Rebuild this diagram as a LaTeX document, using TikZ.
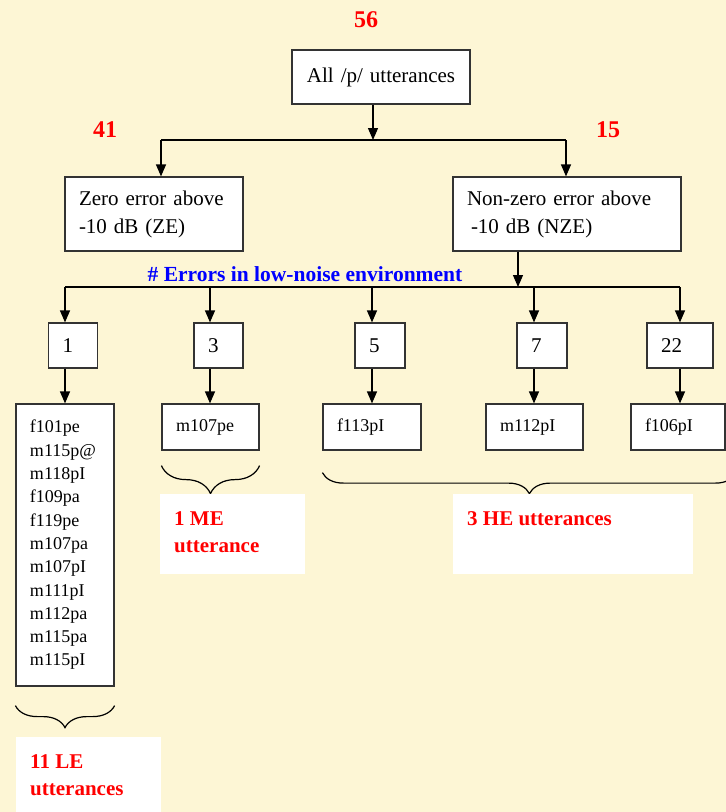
\documentclass[tikz,border=0pt]{standalone}
\usepackage{fontspec}
\setmainfont{Liberation Serif}
\usetikzlibrary{arrows.meta, decorations.pathreplacing}
\definecolor{paper}{HTML}{FDF6D5}

\begin{document}
\begin{tikzpicture}[x=1pt, y=-1pt,
    box/.style={draw=black!80, line width=1.2pt, fill=white, inner xsep=14pt, inner ysep=0pt, align=left},
    headbox/.style={box, font=\fontsize{21}{28}\selectfont},
    numbox/.style={box, minimum height=45, text width=#1, font=\fontsize{21}{25}\selectfont},
    namebox/.style={box, text width=#1, font=\fontsize{18}{23.3}\selectfont},
    total/.style={text=red, font=\fontsize{24}{28}\selectfont\bfseries},
    tallybox/.style={fill=white, anchor=north west, inner sep=0pt},
    tally/.style={text=red, font=\fontsize{21}{26.5}\selectfont\bfseries, align=left, anchor=north west, inner sep=0pt},
    arr/.style={-{Triangle[width=10pt,length=12pt]}, line width=1.2pt},
    ubrace/.style={decorate, decoration={brace, mirror, amplitude=#1}, line width=1.2pt}]
    % Background
    \fill[paper] (0,0) rectangle (726,812);
    \useasboundingbox (0,0) rectangle (726,812);
    \clip (0,0) rectangle (726,812);

    % Top level
    \node[total] (c56) at (366,20) {56};
    \node[headbox, align=center, text width=150, minimum height=54] (all) at (381,77) {All /p/ utterances};
    \node[total] (c41) at (105,130) {41};
    \node[total] (c15) at (608,130) {15};

    % Split above -10 dB
    \node[headbox, text width=150, minimum height=74] (ze) at (154,214) {Zero error above\\-10 dB (ZE)};
    \node[headbox, text width=200, minimum height=74] (nze) at (567,214) {Non-zero error above\\\hspace*{4pt}-10 dB (NZE)};

    \coordinate (j0) at (373,140);
    \coordinate (jl) at (161,140);
    \coordinate (jr) at (566,140);
    \draw[arr] (all.south -| j0) -- (j0);
    \draw[line width=1.2pt] (jl) -- (jr);
    \draw[arr] (jl) -- (ze.north -| jl);
    \draw[arr] (jr) -- (nze.north -| jr);

    % Errors in low-noise environment
    \node[text=blue, font=\fontsize{21.5}{25}\selectfont\bfseries] (env) at (305,274) {\# Errors in low-noise environment};
    \coordinate (k0) at (518,287);
    \coordinate (k1) at (65,287);
    \coordinate (k3) at (210,287);
    \coordinate (k5) at (372,287);
    \coordinate (k7) at (534,287);
    \coordinate (k22) at (680,287);
    \draw[arr] (nze.south -| k0) -- (k0);
    \draw[line width=1.2pt] (k1) -- (k22);

    \node[numbox=21] (n1) at (73,345.5) {1};
    \node[numbox=21] (n3) at (218.5,345.5) {3};
    \node[numbox=22] (n5) at (380,345.5) {5};
    \node[numbox=22] (n7) at (542,345.5) {7};
    \node[numbox=38] (n22) at (680,345.5) {22};

    % Utterance lists
    \node[namebox=70, minimum height=282] (l1) at (65,545) {f101pe\\m115p@\\m118pI\\f109pa\\f119pe\\m107pa\\m107pI\\m111pI\\m112pa\\m115pa\\m115pI};
    \node[namebox=69, minimum height=46] (l3) at (210.5,427) {m107pe};
    \node[namebox=70, minimum height=46] (l5) at (372,427) {f113pI};
    \node[namebox=69, minimum height=46] (l7) at (534.5,427) {m112pI};
    \node[namebox=66, minimum height=46] (l22) at (678,427) {f106pI};

    \foreach \i in {1,3,5,7,22} {
        \draw[arr] (k\i) -- (n\i.north -| k\i);
        \draw[arr] (n\i.south -| k\i) -- (l\i.north -| k\i);
    }

    % Braces and groups
    \draw[ubrace=22] ([yshift=-19]l1.south west) -- ([yshift=-19]l1.south east);
    \draw[ubrace=28] ([yshift=-15]l3.south west) -- ([yshift=-15]l3.south east);
    \draw[ubrace=21] ([yshift=-22]l5.south west) -- +(414,0);

    \node[tallybox, minimum width=145, minimum height=80] (le) at (16,737) {};
    \node[tallybox, minimum width=145, minimum height=80] (me) at (160,494) {};
    \node[tallybox, minimum width=240, minimum height=80] (he) at (453,494) {};
    \node[tally] at ([shift={(14,17.5)}]le.north west) {11 LE\\utterances};
    \node[tally] at ([shift={(14,17.5)}]me.north west) {1 ME\\utterance};
    \node[tally] at ([shift={(14,17.5)}]he.north west) {3 HE utterances};
\end{tikzpicture}
\end{document}
